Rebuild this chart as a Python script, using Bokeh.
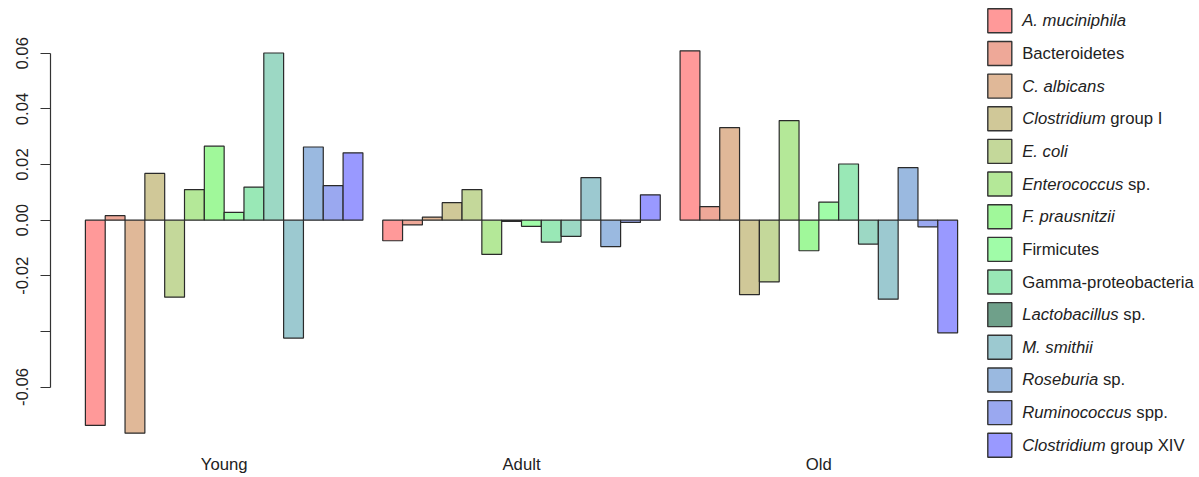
import numpy as np
from bokeh.plotting import figure
from bokeh.models import Range1d, FixedTicker, ColumnDataSource
from bokeh.core.properties import value
from bokeh.embed import file_html
from bokeh.resources import INLINE

# ---- data -------------------------------------------------------------
groups = ["Young", "Adult", "Old"]

taxa = [
    "A. muciniphila", "Bacteroidetes", "C. albicans", "Clostridium group I",
    "E. coli", "Enterococcus sp.", "F. prausnitzii", "Firmicutes",
    "Gamma-proteobacteria", "Lactobacillus sp.", "M. smithii",
    "Roseburia sp.", "Ruminococcus spp.", "Clostridium group XIV",
]
# legend labels split into (italic part, upright part)
taxa_italic = [
    "A. muciniphila", "", "C. albicans", "Clostridium", "E. coli",
    "Enterococcus", "F. prausnitzii", "", "", "Lactobacillus",
    "M. smithii", "Roseburia", "Ruminococcus", "Clostridium",
]
taxa_upright = [
    "", "Bacteroidetes", "", "group I", "", "sp.", "", "Firmicutes",
    "Gamma-proteobacteria", "sp.", "", "sp.", "spp.", "group XIV",
]

young = [-0.0738, 0.0016, -0.0766, 0.0168, -0.0277, 0.0110, 0.0266,
         0.0028, 0.0119, 0.0601, -0.0424, 0.0263, 0.0124, 0.0242]
adult = [-0.0074, -0.0017, 0.0011, 0.0063, 0.0110, -0.0123, -0.0004,
         -0.0022, -0.0079, -0.0058, 0.0153, -0.0095, -0.0008, 0.0091]
old = [0.0609, 0.0049, 0.0333, -0.0268, -0.0222, 0.0358, -0.0110,
       0.0065, 0.0202, -0.0086, -0.0284, 0.0189, -0.0024, -0.0405]

bar_colors = ["#FF9999", "#EEA898", "#E0B898", "#D0C898", "#C4D89A",
              "#B4E898", "#A0F89A", "#A0FCA8", "#99E8B6", "#9CD8C4",
              "#9CC9D0", "#9AB9E0", "#9AA8F0", "#9999FF"]
legend_colors = bar_colors[:9] + ["#6FA08A"] + bar_colors[10:]

y_ticks = [-0.06, -0.04, -0.02, 0.0, 0.02, 0.04, 0.06]
y_tick_labels = ["-0.06", "", "-0.02", "0.00", "0.02", "0.04", "0.06"]

# ---- geometry ---------------------------------------------------------
W, H = 1199, 477
REG_L, REG_R, REG_T, REG_B = 50, 992, 35, 448   # plotting region in px
n_taxa = len(taxa)
series = [young, adult, old]

# bars: one unit wide, one empty unit before each group
x_left, x_val, x_col = [], [], []
for g, vals in enumerate(series):
    for i, v in enumerate(vals):
        x_left.append(1 + g * (n_taxa + 1) + i)
        x_val.append(v)
        x_col.append(bar_colors[i])
x_left = np.array(x_left, dtype=float)
src = ColumnDataSource(dict(x=x_left + 0.5, top=x_val,
                            bottom=[0] * len(x_val), color=x_col))

group_centers = [1 + g * (n_taxa + 1) + n_taxa / 2 for g in range(len(groups))]

# axis extents padded by 4% on each side
xlo, xhi = x_left.min(), x_left.max() + 1
xpad = 0.04 * (xhi - xlo)
sx = (REG_R - REG_L) / ((xhi + xpad) - (xlo - xpad))
all_v = np.array(x_val)
ylo, yhi = min(all_v.min(), 0), max(all_v.max(), 0)
ypad = 0.04 * (yhi - ylo)
sy = (REG_B - REG_T) / ((yhi + ypad) - (ylo - ypad))

x_range = Range1d(xlo - xpad, xhi + xpad + (W - REG_R) / sx)
y_range = Range1d(ylo - ypad - (H - REG_B) / sy, yhi + ypad + REG_T / sy)

FONT = "Liberation Sans"
FS = "16.7px"

p = figure(width=W, height=H, x_range=x_range, y_range=y_range,
           output_backend="svg", toolbar_location=None,
           x_axis_location=None, y_axis_location="left",
           min_border_left=REG_L, min_border_right=0,
           min_border_top=0, min_border_bottom=0)
p.grid.visible = False
p.outline_line_color = None
p.background_fill_color = "white"
p.border_fill_color = "white"

# pixel-coordinate ranges for legend and group labels
p.extra_x_ranges = {"px": Range1d(REG_L, W)}
p.extra_y_ranges = {"py": Range1d(H, 0)}

p.vbar(x="x", top="top", bottom="bottom", width=1.0, source=src,
       fill_color="color", line_color="#2a2a2a", line_width=1.2)

ax = p.yaxis[0]
ax.ticker = FixedTicker(ticks=y_ticks)
ax.major_label_overrides = {t: l for t, l in zip(y_ticks, y_tick_labels)}
ax.bounds = (min(y_ticks), max(y_ticks))
ax.minor_tick_line_color = None
ax.major_tick_in = 0
ax.major_tick_out = 10
ax.axis_line_color = "#333333"
ax.axis_line_width = 1.2
ax.major_tick_line_color = "#333333"
ax.major_tick_line_width = 1.2
ax.major_label_orientation = "vertical"
ax.major_label_text_font = FONT
ax.major_label_text_font_size = FS
ax.major_label_text_color = "#222222"
ax.major_label_standoff = 12

# group labels under the bars
p.text(x=group_centers, y=[464] * len(groups), text=groups,
       y_range_name="py", text_align="center", text_baseline="middle",
       text_font=value(FONT), text_font_size=value(FS), text_color="#222222")

# legend
ARIAL = {"A": 667, "C": 722, "E": 667, "F": 611, "L": 556, "M": 833,
         "R": 722, "a": 556, "b": 556, "c": 500, "d": 556, "e": 556,
         "h": 556, "i": 222, "l": 222, "m": 833, "n": 556, "o": 556,
         "p": 556, "r": 333, "s": 500, "t": 278, "u": 556, "z": 500,
         ".": 278, " ": 278}
fs_px = float(FS[:-2])


def text_w(s):
    return sum(ARIAL.get(ch, 556) for ch in s) / 1000.0 * fs_px


LEG_X, LEG_Y0, LEG_DY, SW = 987.3, 8.3, 32.65, 24.0
TXT_X = 1021.7
tops = [LEG_Y0 + i * LEG_DY for i in range(n_taxa)]
p.quad(left=[LEG_X] * n_taxa, right=[LEG_X + SW] * n_taxa,
       top=tops, bottom=[t + SW for t in tops],
       x_range_name="px", y_range_name="py",
       fill_color=legend_colors, line_color="#333333", line_width=1.4)

it_x, it_y, it_t, up_x, up_y, up_t = [], [], [], [], [], []
for i in range(n_taxa):
    mid = tops[i] + SW / 2
    if taxa_italic[i]:
        it_x.append(TXT_X); it_y.append(mid); it_t.append(taxa_italic[i])
    if taxa_upright[i]:
        off = text_w(taxa_italic[i] + " ") if taxa_italic[i] else 0.0
        up_x.append(TXT_X + off); up_y.append(mid); up_t.append(taxa_upright[i])

p.text(x=it_x, y=it_y, text=it_t, x_range_name="px", y_range_name="py",
       text_align="left", text_baseline="middle", text_font=value(FONT),
       text_font_size=value(FS), text_font_style="italic", text_color="#222222")
p.text(x=up_x, y=up_y, text=up_t, x_range_name="px", y_range_name="py",
       text_align="left", text_baseline="middle", text_font=value(FONT),
       text_font_size=value(FS), text_color="#222222")

open("out.html", "w").write(file_html(p, INLINE))
